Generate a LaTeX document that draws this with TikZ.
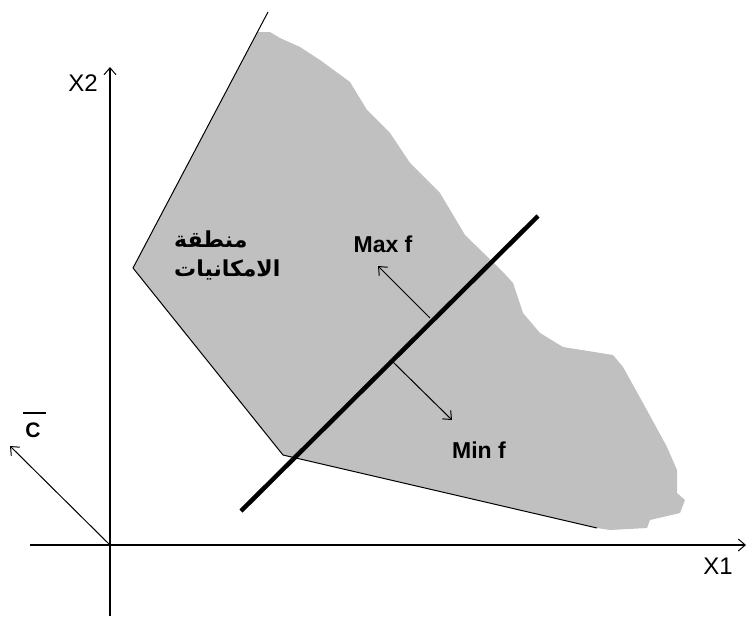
\documentclass[tikz,border=0pt]{standalone}
\usepackage{fontspec}
\setmainfont{Liberation Sans}
\newfontfamily\arabicfont[Script=Arabic]{DejaVu Sans}
\TeXXeTstate=1
\usetikzlibrary{arrows.meta}
\begin{document}
\begin{tikzpicture}[x=1pt,y=-1pt,
  axis/.style={line width=2.6pt,-{Straight Barb[length=7pt,width=12pt,line width=1pt]}},
  thinarrow/.style={line width=1pt,-{Straight Barb[length=7pt,width=12pt,line width=1pt]}},
  edge/.style={line width=1pt,black},
  region/.style={fill={rgb,255:red,192;green,192;blue,192}},
  lbl/.style={font=\fontsize{23}{26}\selectfont\bfseries,inner sep=0pt},
  axlbl/.style={font=\fontsize{24}{26}\selectfont,inner sep=0pt}]
\path[use as bounding box] (0,0) rectangle (746,619);
% polygon vertices
\coordinate (Ptop) at (268,12);
\coordinate (Pleft) at (133,268);
\coordinate (Pbot) at (283,455);
\coordinate (Pright) at (597,528);
% feasible region
\path[region] (258,32) -- (Pleft) -- (Pbot) -- (Pright) -- (610,530) -- (647,528) -- (650,520) -- (680,513) -- (685,500) -- (677,493) -- (677,470) -- (667,447) -- (643,403) -- (623,367) -- (613,355) -- (563,347) -- (540,333) -- (523,313) -- (513,283) -- (503,272) -- (465,235) -- (440,193) -- (410,163) -- (390,133) -- (367,110) -- (350,82) -- (320,60) -- (300,47) -- (280,38) -- (270,32) -- cycle;
\draw[edge] (Ptop) -- (Pleft) -- (Pbot) -- (Pright);
% axes
\coordinate (O) at (110,545);
\coordinate (xs) at (30,545);
\coordinate (xe) at (746,545);
\coordinate (ys) at (110,616);
\coordinate (ye) at (110,67);
\draw[axis] (xs) -- (xe);
\draw[axis] (ys) -- (ye);
\node[axlbl] (X1) at (718,566) {X1};
\node[axlbl] (X2) at (83,83) {X2};
% vector c
\coordinate (ctip) at (10,446);
\draw[thinarrow] (O) -- (ctip);
\node[lbl,font=\fontsize{21}{24}\selectfont\bfseries] (C) at (33,430) {C};
\draw[line width=1.2pt] (23,413) -- (46,413);
% objective line
\coordinate (La) at (241,511);
\coordinate (Lb) at (538,216);
\draw[line width=4.5pt] (La) -- (Lb);
\coordinate (maxs) at (430,318);
\coordinate (maxe) at (378,266);
\coordinate (mins) at (393,362);
\coordinate (mine) at (452,420);
\draw[thinarrow] (maxs) -- (maxe);
\draw[thinarrow] (mins) -- (mine);
\node[lbl] (maxf) at (383,244) {Max f};
\node[lbl] (minf) at (479,450) {Min f};
% arabic label
\node[anchor=north west,align=left,inner sep=0pt,font=\arabicfont\bfseries\fontsize{22}{29}\selectfont] (reg) at (174,231) {\beginR منطقة\endR\\\beginR الامكانيات\endR};
\end{tikzpicture}
\end{document}
